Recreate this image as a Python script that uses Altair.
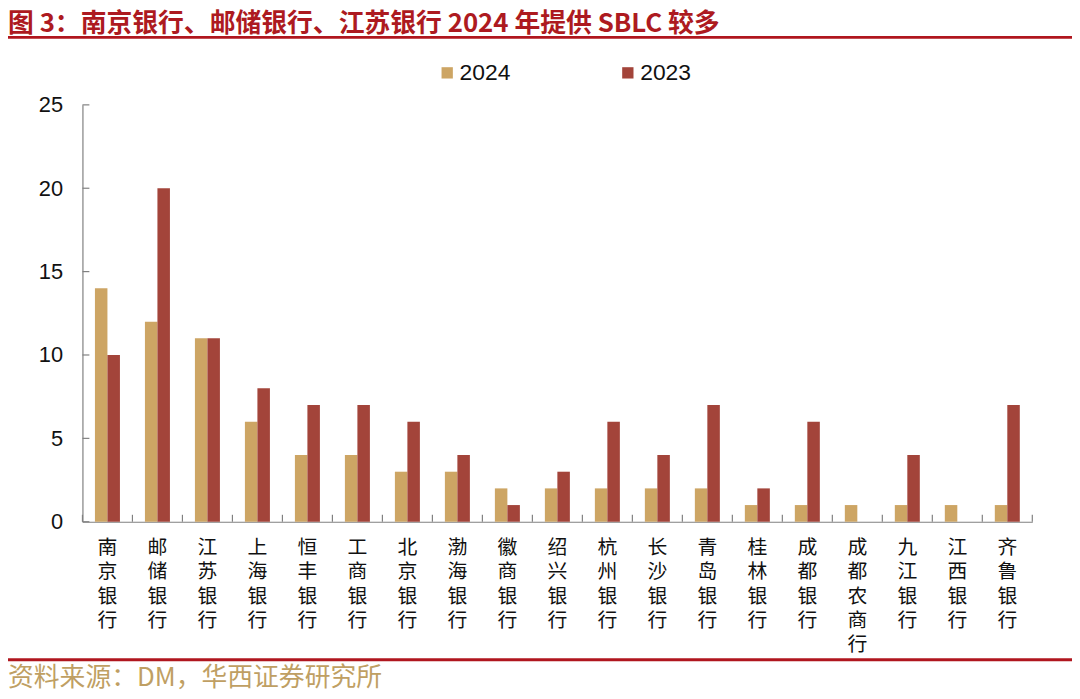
import altair as alt
import pandas as pd

banks = ["南京银行", "邮储银行", "江苏银行", "上海银行", "恒丰银行", "工商银行", "北京银行",
         "渤海银行", "徽商银行", "绍兴银行", "杭州银行", "长沙银行", "青岛银行", "桂林银行",
         "成都银行", "成都农商行", "九江银行", "江西银行", "齐鲁银行"]
v2024 = [14, 12, 11, 6, 4, 4, 3, 3, 2, 2, 2, 2, 2, 1, 1, 1, 1, 1, 1]
v2023 = [10, 20, 11, 8, 7, 7, 6, 4, 1, 3, 6, 4, 7, 2, 6, 0, 4, 0, 7]
years = ["2024", "2023"]
colors = ["#CDA564", "#A3443A"]
y_ticks = [0, 5, 10, 15, 20, 25]
title_text = "图 3：南京银行、邮储银行、江苏银行 2024 年提供 SBLC 较多"
source_text = "资料来源：DM，华西证券研究所"

W, H = 957, 420
rows = []
for b, a, c in zip(banks, v2024, v2023):
    rows.append({"bank": b, "year": "2024", "value": a})
    rows.append({"bank": b, "year": "2023", "value": c})
df = pd.DataFrame(rows)

xscale = alt.Scale(domain=banks, paddingInner=0, paddingOuter=0)
yscale = alt.Scale(domain=[0, 25], nice=False)

bars = alt.Chart(df).mark_bar().encode(
    x=alt.X("bank:N", scale=xscale, sort=banks, title=None,
            axis=alt.Axis(labelAngle=0, ticks=False, labelPadding=16,
                          labelExpr="split(datum.label, '')",
                          labelFont="Noto Sans CJK SC", labelFontSize=20,
                          labelLineHeight=24.5, labelColor="#111111",
                          labelBaseline="top",
                          domainColor="#808080", domainWidth=1.2)),
    xOffset=alt.XOffset("year:N", sort=years,
                        scale=alt.Scale(domain=years, paddingInner=0, paddingOuter=1)),
    y=alt.Y("value:Q", scale=yscale, title=None,
            axis=alt.Axis(values=y_ticks, ticks=False, grid=False, labelPadding=20,
                          labelFont="Liberation Sans", labelFontSize=22,
                          labelColor="#111111",
                          domainColor="#808080", domainWidth=1.2)),
    color=alt.Color("year:N", sort=years,
                    scale=alt.Scale(domain=years, range=colors),
                    legend=alt.Legend(orient="none", legendX=356, legendY=-44,
                                      direction="horizontal", title=None,
                                      symbolType="square", symbolSize=130,
                                      symbolStrokeWidth=0, labelFontSize=23,
                                      labelFont="Liberation Sans", labelColor="#111111",
                                      labelOffset=1, columnPadding=106, padding=0)),
)

ytick_df = pd.DataFrame({"v": y_ticks})
yticks = alt.Chart(ytick_df).mark_rule(color="#808080", strokeWidth=1.2).encode(
    y=alt.Y("v:Q", scale=yscale),
    x=alt.value(0), x2=alt.value(7),
)

xtick_df = pd.DataFrame({"bank": banks})
xticks = alt.Chart(xtick_df).mark_rule(color="#808080", strokeWidth=1.2).encode(
    x=alt.X("bank:N", scale=xscale, sort=banks, bandPosition=0),
    y=alt.value(H), y2=alt.value(H - 7),
)
xtick_end = alt.Chart(pd.DataFrame({"bank": [banks[-1]]})).mark_rule(
    color="#808080", strokeWidth=1.2).encode(
    x=alt.X("bank:N", scale=xscale, sort=banks, bandPosition=1),
    y=alt.value(H), y2=alt.value(H - 7),
)

one = pd.DataFrame({"t": [0]})
title = alt.Chart(one).mark_text(
    align="left", baseline="middle", font="Noto Sans CJK SC", fontSize=26,
    fontWeight="bold", color="#AD1A20").encode(
    x=alt.value(-75), y=alt.value(-81), text=alt.value(title_text))
source = alt.Chart(one).mark_text(
    align="left", baseline="middle", font="Noto Sans CJK SC", fontSize=26,
    color="#BF9F63").encode(
    x=alt.value(-75), y=alt.value(578), text=alt.value(source_text))
line_top = alt.Chart(one).mark_rule(color="#B0161E", strokeWidth=3).encode(
    x=alt.value(-75), x2=alt.value(W + 40), y=alt.value(-68))
line_bot = alt.Chart(one).mark_rule(color="#B0161E", strokeWidth=3).encode(
    x=alt.value(-75), x2=alt.value(W + 40), y=alt.value(559))

chart = alt.layer(bars, yticks, xticks, xtick_end, title, source, line_top, line_bot).properties(
    width=W, height=H,
    padding={"left": 75, "top": 95, "right": 40, "bottom": 176},
    autosize=alt.AutoSizeParams(type="none"),
    background="white",
).configure_view(stroke=None)

chart.save("out.html", embed_options={"renderer": "svg", "actions": False})
